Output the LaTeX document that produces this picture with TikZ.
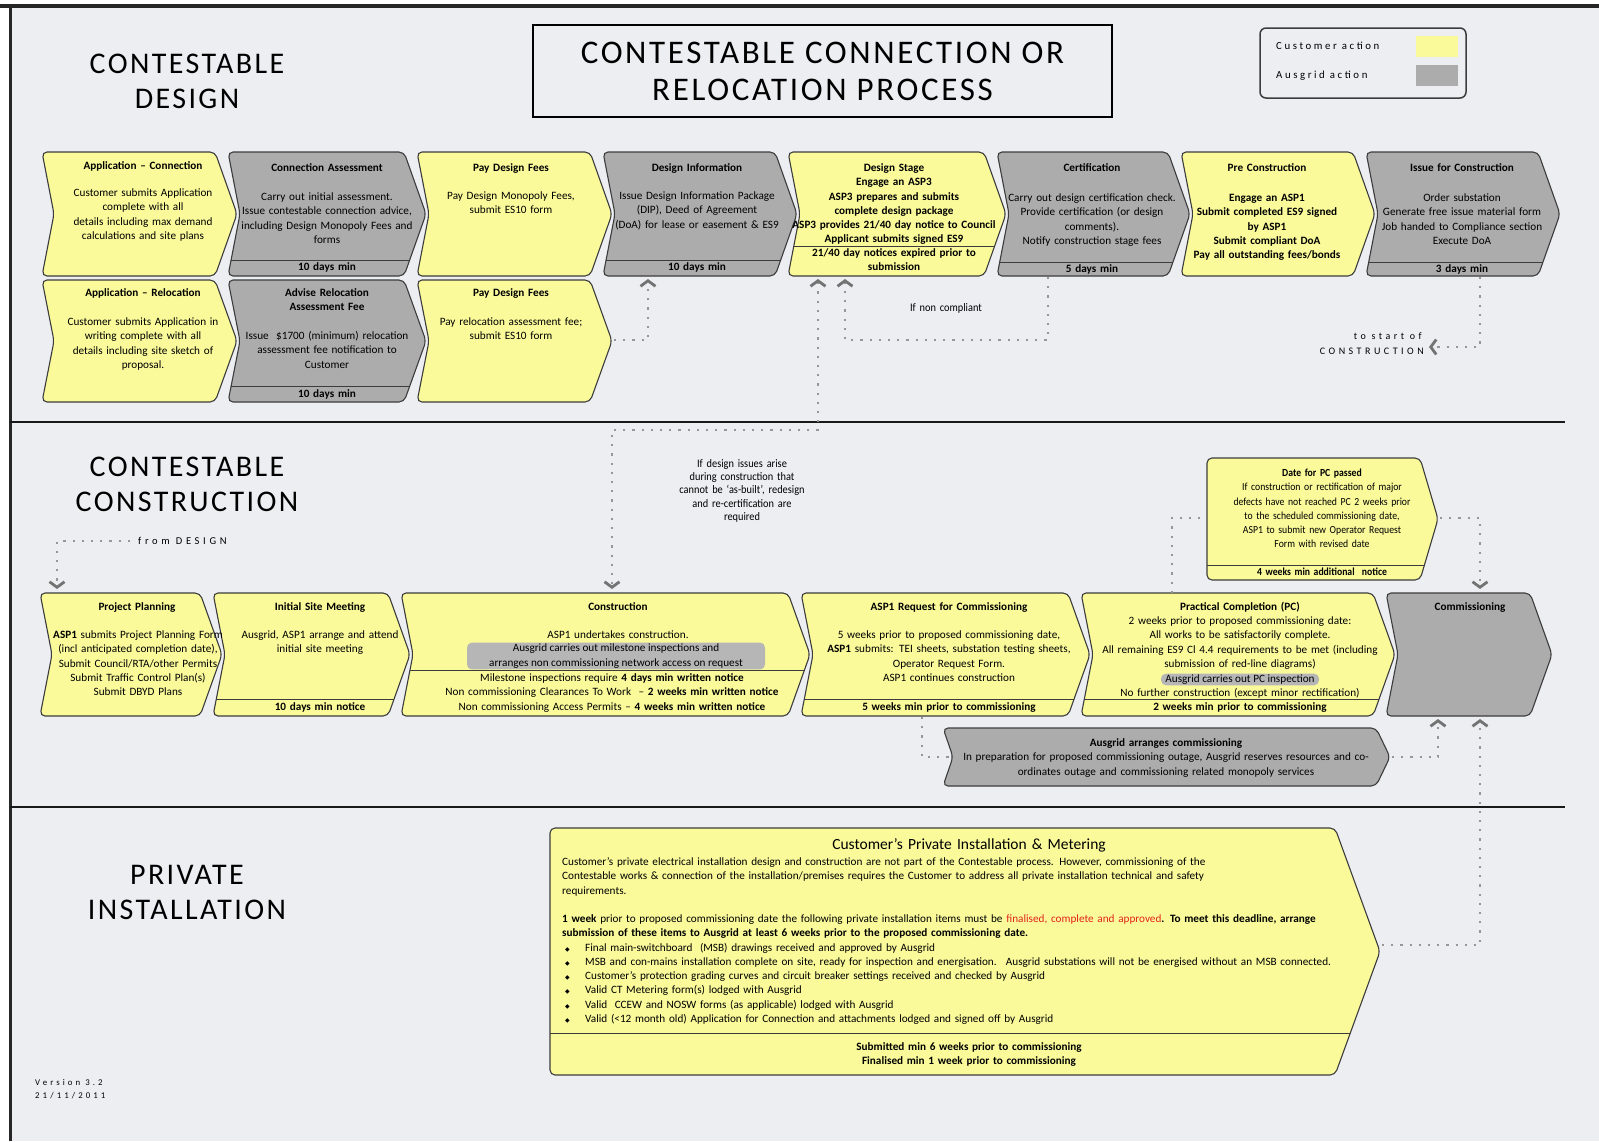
\documentclass[tikz,border=0pt]{standalone}
\usepackage{fontspec}
\setmainfont{Carlito}
\newfontfamily\headfont[LetterSpace=8]{Carlito}
\newfontfamily\wide[LetterSpace=35]{Carlito}
\newfontfamily\legfont[LetterSpace=24]{Carlito}
\newfontfamily\narrowfont[FakeStretch=0.9]{Carlito}
\newfontfamily\symfont{DejaVu Sans}
\usetikzlibrary{arrows.meta}
\definecolor{bgc}{RGB}{237,238,242}
\definecolor{yel}{RGB}{250,250,155}
\definecolor{gry}{RGB}{172,172,172}
\definecolor{edge}{RGB}{60,60,60}
\definecolor{hil}{RGB}{182,182,182}
\definecolor{dotc}{RGB}{150,150,150}
\definecolor{arrc}{RGB}{115,115,115}
\definecolor{redt}{RGB}{225,35,25}
\newcommand\bxf{\fontsize{11.2}{14.25}\selectfont}
\newcommand\narrowbx{\narrowfont\fontsize{10.8}{14.25}\selectfont}
\newcommand\narrowsm{\narrowfont\fontsize{11.5}{13.2}\selectfont}
\newcommand\bul{\hspace*{3pt}\makebox[20pt][l]{{\symfont\fontsize{6}{6}\selectfont ◆}}}
% chevron: [footer y]{fill}{x1}{y1}{x2}{y2}{notch}{tip}
\newcommand\chev[8][]{%
  \fill[#2, rounded corners=5pt] (#3,#4) -- ({#5-#8},#4) -- (#5,{(#4+#6)/2}) -- ({#5-#8},#6) -- (#3,#6) -- ({#3+#7},{(#4+#6)/2}) -- cycle;
  \if\relax\detokenize{#1}\relax\else
  \begin{scope}
    \clip[rounded corners=5pt] (#3,#4) -- ({#5-#8},#4) -- (#5,{(#4+#6)/2}) -- ({#5-#8},#6) -- (#3,#6) -- ({#3+#7},{(#4+#6)/2}) -- cycle;
    \draw[edge, line width=1pt] (#3,#1) -- (#5,#1);
  \end{scope}
  \fi
  \draw[edge, line width=1.1pt, rounded corners=5pt] (#3,#4) -- ({#5-#8},#4) -- (#5,{(#4+#6)/2}) -- ({#5-#8},#6) -- (#3,#6) -- ({#3+#7},{(#4+#6)/2}) -- cycle;
}
\tikzset{
  bt/.style={font=\bxf, align=center, text width=#1pt, anchor=base, inner sep=0pt},
  bt/.default=240,
  btb/.style={bt=#1, font=\bxf\bfseries},
  btb/.default=240,
  hl/.style={fill=hil, rounded corners=5pt, font=\bxf, align=center, inner sep=1.5pt},
  dotln/.style={draw=dotc, line width=2.4pt, dash pattern=on 2.2pt off 7pt},
  barb/.style={-{Straight Barb[length=5.5pt,width=15pt,line width=2.8pt,color=arrc]}},
  barbs/.style={{Straight Barb[length=5.5pt,width=15pt,line width=2.8pt,color=arrc]}-{Straight Barb[length=5.5pt,width=15pt,line width=2.8pt,color=arrc]}},
  sectitle/.style={bt=340, font=\headfont\fontsize{30}{35}\selectfont},
  widetxt/.style={inner sep=0pt, font=\wide\fontsize{#1}{12}\selectfont},
}
\begin{document}
\begin{tikzpicture}[x=1pt, y=-1pt]
\useasboundingbox (0,0) rectangle (1599,1141);
\fill[white] (0,0) rectangle (1599,1141);
\fill[bgc] (10,6) rectangle (1599,1141);
\draw[line width=4pt, black!85] (0,6) -- (1599,6);
\draw[line width=3pt, black!85] (10,6) -- (10,1141);
\draw[line width=1.5pt, black!90] (10,422) -- (1565,422);
\draw[line width=1.5pt, black!90] (10,807) -- (1565,807);

% ---------- headings ----------
\node[sectitle] (sec1) at (187,73.7) {CONTESTABLE\\DESIGN};
\node[sectitle] (sec2) at (187,476.7) {CONTESTABLE\\CONSTRUCTION};
\node[sectitle] (sec3) at (187,884.7) {PRIVATE\\INSTALLATION};
\node[draw=black, line width=2.8pt, minimum width=579pt, minimum height=92pt, align=center,
      font=\headfont\fontsize{33}{37}\selectfont] (title) at (822.5,71) {CONTESTABLE CONNECTION OR\\RELOCATION PROCESS};

% legend
\node[draw=edge, line width=1.5pt, rounded corners=6pt, minimum width=206pt, minimum height=70pt] (legend) at (1363,63) {};
\node[inner sep=0pt, font=\legfont\fontsize{10.8}{12}\selectfont, anchor=base west] (lg1) at (1276,49.5) {Customer action};
\node[inner sep=0pt, font=\legfont\fontsize{10.8}{12}\selectfont, anchor=base west] (lg2) at (1276,78.5) {Ausgrid action};
\node[fill=yel, minimum width=42pt, minimum height=21pt, inner sep=0pt] (sw1) at (1437,46.5) {};
\node[fill=gry, minimum width=42pt, minimum height=21pt, inner sep=0pt] (sw2) at (1437,75.5) {};

% ---------- design row 1 ----------
\chev{yel}{42}{152}{237}{276}{12}{22}
\chev[260]{gry}{228}{152}{426}{276}{12}{22}
\chev{yel}{417}{152}{612}{276}{12}{22}
\chev[260]{gry}{603}{152}{797}{276}{12}{22}
\chev[246]{yel}{788}{152}{1006}{276}{12}{22}
\chev[262]{gry}{997}{152}{1190}{276}{12}{22}
\chev{yel}{1181}{152}{1375}{276}{12}{22}
\chev[262]{gry}{1366}{152}{1560}{276}{12}{22}
% ---------- design row 2 ----------
\chev{yel}{42}{280}{237}{402}{12}{22}
\chev[386]{gry}{228}{280}{426}{402}{12}{22}
\chev{yel}{417}{280}{612}{402}{12}{22}

\node[btb] (t1) at (143,169.5) {Application -- Connection};
\node[bt] (b1) at (143,196.5) {Customer submits Application\\complete with all\\details including max demand\\calculations and site plans};
\node[btb] (t2) at (327,171.5) {Connection Assessment};
\node[bt] (b2) at (327,200.5) {Carry out initial assessment.\\Issue contestable connection advice,\\including Design Monopoly Fees and\\forms};
\node[btb] (f2) at (327,270.5) {10 days min};
\node[btb] (t3) at (511,171.5) {Pay Design Fees};
\node[bt] (b3) at (511,199.5) {Pay Design Monopoly Fees,\\submit ES10 form};
\node[btb] (t4) at (697,171.5) {Design Information};
\node[bt] (b4) at (697,199.5) {Issue Design Information Package\\(DIP), Deed of Agreement\\(DoA) for lease or easement \& ES9};
\node[btb] (f4) at (697,270.5) {10 days min};
\node[btb] (t5) at (894,171.5) {Design Stage\\Engage an ASP3\\ASP3 prepares and submits\\complete design package\\ASP3 provides 21/40 day notice to Council\\Applicant submits signed ES9};
\node[btb] (f5) at (894,256.5) {21/40 day notices expired prior to\\submission};
\node[btb] (t6) at (1092,171.5) {Certification};
\node[bt] (b6) at (1092,201.5) {Carry out design certification check.\\Provide certification (or design\\comments).\\Notify construction stage fees};
\node[btb] (f6) at (1092,272.5) {5 days min};
\node[btb] (t7) at (1267,171.5) {Pre Construction};
\node[btb] (b7) at (1267,201.5) {Engage an ASP1\\Submit completed ES9 signed\\by ASP1\\Submit compliant DoA\\Pay all outstanding fees/bonds};
\node[btb] (t8) at (1462,171.5) {Issue for Construction};
\node[bt] (b8) at (1462,201.5) {Order substation\\Generate free issue material form\\Job handed to Compliance section\\Execute DoA};
\node[btb] (f8) at (1462,272.5) {3 days min};

\node[btb] (t9) at (143,296.5) {Application -- Relocation};
\node[bt] (b9) at (143,325.5) {Customer submits Application in\\writing complete with all\\details including site sketch of\\proposal.};
\node[btb] (t10) at (327,296.5) {Advise Relocation\\Assessment Fee};
\node[bt] (b10) at (327,339.5) {Issue~ \$1700 (minimum) relocation\\assessment fee notification to\\Customer};
\node[btb] (f10) at (327,397.5) {10 days min};
\node[btb] (t11) at (511,296.5) {Pay Design Fees};
\node[bt] (b11) at (511,325.5) {Pay relocation assessment fee;\\submit ES10 form};

% ---------- construction row ----------
\chev{yel}{40}{593}{222}{716}{12}{22}
\chev[699]{yel}{213}{593}{410}{716}{12}{22}
\chev[670]{yel}{401}{593}{810}{716}{12}{22}
\chev[699]{yel}{801}{593}{1090}{716}{12}{22}
\chev[699]{yel}{1081}{593}{1395}{716}{12}{22}
\chev{gry}{1386}{593}{1552}{716}{12}{22}
\chev[565]{yel}{1207}{458}{1438}{580}{0}{18}
\chev{gry}{943}{728}{1390}{786}{10}{14}

\node[btb] (t12) at (137,610.5) {Project Planning};
\node[bt] (b12) at (138,638.5) {\textbf{ASP1} submits Project Planning Form\\(incl anticipated completion date),\\Submit Council/RTA/other Permits\\Submit Traffic Control Plan(s)\\Submit DBYD Plans};
\node[btb] (t13) at (320,610.5) {Initial Site Meeting};
\node[bt] (b13) at (320,638.5) {Ausgrid, ASP1 arrange and attend\\initial site meeting};
\node[btb] (f13) at (320,710.5) {10 days min notice};
\node[btb] (t14) at (618,610.5) {Construction};
\node[bt] (b14) at (618,638.5) {ASP1 undertakes construction.};
\node[hl, minimum width=298pt] (h14) at (616,656) {Ausgrid carries out milestone inspections and\\arranges non commissioning network access on request};
\node[bt=420] (f14) at (612,681.5) {Milestone inspections require \textbf{4 days min written notice}\\Non commissioning Clearances To Work~ -- \textbf{2 weeks min written notice}\\Non commissioning Access Permits -- \textbf{4 weeks min written notice}};
\node[btb=300] (t15) at (949,610.5) {ASP1 Request for Commissioning};
\node[bt=300] (b15) at (949,638.5) {5 weeks prior to proposed commissioning date,\\\textbf{ASP1} submits: TEI sheets, substation testing sheets,\\Operator Request Form.\\ASP1 continues construction};
\node[btb=300] (f15) at (949,710.5) {5 weeks min prior to commissioning};
\node[btb=320] (t16) at (1240,610.5) {Practical Completion (PC)};
\node[bt=330] (b16) at (1240,624.5) {2 weeks prior to proposed commissioning date:\\All works to be satisfactorily complete.\\All remaining ES9 Cl 4.4 requirements to be met (including\\submission of red-line diagrams)};
\node[hl, minimum width=158pt, inner ysep=1pt] (h16) at (1240,679.5) {Ausgrid carries out PC inspection};
\node[bt=330] (b16b) at (1240,696.5) {No further construction (except minor rectification)};
\node[btb=320] (f16) at (1240,710.5) {2 weeks min prior to commissioning};
\node[btb] (t17) at (1470,610.5) {Commissioning};

\node[bt, font=\narrowbx] (t18) at (1322,476.5) {\textbf{Date for PC passed}\\If construction or rectification of major\\defects have not reached PC 2 weeks prior\\to the scheduled commissioning date,\\ASP1 to submit new Operator Request\\Form with revised date};
\node[bt, font=\narrowbx\bfseries] (f18) at (1322,575.5) {4 weeks min additional~ notice};

\node[bt=470] (t19) at (1166,746.5) {\textbf{Ausgrid arranges commissioning}\\In preparation for proposed commissioning outage, Ausgrid reserves resources and co-\\ordinates outage and commissioning related monopoly services};

% ---------- private installation ----------
\chev[1033]{yel}{550}{828}{1380}{1075}{0}{45}
\node[bt=600, font=\fontsize{15.5}{17}\selectfont] (t20) at (969,849.5) {Customer’s Private Installation \& Metering};
\node[font=\bxf, align=left, text width=830pt, anchor=base west, inner sep=0pt] (b20) at (562,865.5) {%
Customer’s private electrical installation design and construction are not part of the Contestable process. However, commissioning of the\\
Contestable works \& connection of the installation/premises requires the Customer to address all private installation technical and safety\\
requirements.\\[14.25pt]
\textbf{1 week} prior to proposed commissioning date the following private installation items must be \textcolor{redt}{finalised, complete and approved}\textbf{. To meet this deadline, arrange}\\
\textbf{submission of these items to Ausgrid at least 6 weeks prior to the proposed commissioning date.}\\
\bul Final main-switchboard~ (MSB) drawings received and approved by Ausgrid\\
\bul MSB and con-mains installation complete on site, ready for inspection and energisation.~ Ausgrid substations will not be energised without an MSB connected.\\
\bul Customer’s protection grading curves and circuit breaker settings received and checked by Ausgrid\\
\bul Valid CT Metering form(s) lodged with Ausgrid\\
\bul Valid~ CCEW and NOSW forms (as applicable) lodged with Ausgrid\\
\bul Valid ({<}12 month old) Application for Connection and attachments lodged and signed off by Ausgrid};
\node[btb=400] (f20) at (969,1050.5) {Submitted min 6 weeks prior to commissioning\\Finalised min 1 week prior to commissioning};

% ---------- notes ----------
\node[bt=200, font=\narrowsm] (nc) at (946,311.5) {If non compliant};
\node[bt=200, font=\narrowsm] (di) at (742,467.5) {If design issues arise\\during construction that\\cannot be ‘as-built’, redesign\\and re-certification are\\required};
\node[widetxt=10, anchor=base east] (ts1) at (1422,339.5) {to start of};
\node[widetxt=10, anchor=base east] (ts2) at (1424,354) {CONSTRUCTION};
\node[widetxt=10.5, anchor=base west] (fdt) at (138,544.5) {from DESIGN};
\node[widetxt=8.8, anchor=base west] (ver1) at (35,1085.5) {Version 3.2};
\node[widetxt=8.8, anchor=base west] (ver2) at (35,1098.5) {21/11/2011};

% ---------- connector end points ----------
\coordinate (s11tip) at (614,340);
\coordinate (s4bot) at (648,279);
\coordinate (s5botA) at (818,279);
\coordinate (jdes) at (715,430);
\coordinate (s14top) at (612,589);
\coordinate (s6bot) at (1048,277);
\coordinate (jnc) at (946,340);
\coordinate (s5botB) at (845,279);
\coordinate (s8bot) at (1480,277);
\coordinate (tostart) at (1429,347);
\coordinate (fromd) at (130,541);
\coordinate (s12top) at (57,589);
\coordinate (s16top) at (1172,593);
\coordinate (s18left) at (1207,518);
\coordinate (s18tip) at (1440,518);
\coordinate (s17topB) at (1480,589);
\coordinate (s15bot) at (922,717);
\coordinate (s19left) at (950,757);
\coordinate (s19tip) at (1392,757);
\coordinate (s17botA) at (1438,719);
\coordinate (s20tip) at (1382,945);
\coordinate (s17botB) at (1480,719);

% ---------- dotted connectors ----------
\draw[dotln, barb] (s11tip) -| (s4bot);
\draw[dotln, barbs] (s5botA) |- (jdes) -| (s14top);
\draw[dotln, barb] (s6bot) |- (jnc) -| (s5botB);
\draw[dotln, barb] (s8bot) |- (tostart);
\draw[dotln, barb] (fromd) -| (s12top);
\draw[dotln] (s16top) |- (s18left);
\draw[dotln, barb] (s18tip) -| (s17topB);
\draw[dotln] (s15bot) |- (s19left);
\draw[dotln, barb] (s19tip) -| (s17botA);
\draw[dotln, barb] (s20tip) -| (s17botB);
\end{tikzpicture}
\end{document}
